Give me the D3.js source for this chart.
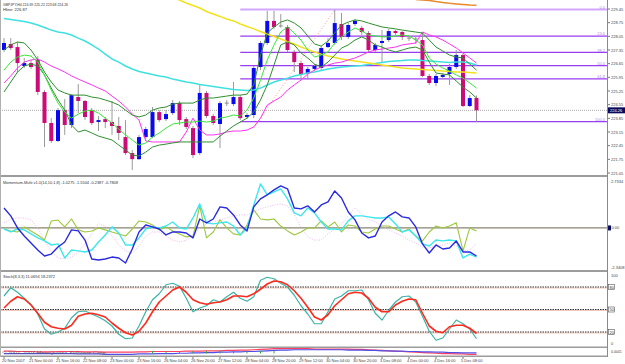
<!DOCTYPE html>
<html><head><meta charset="utf-8">
<script src="https://cdn.jsdelivr.net/npm/d3@7"></script>
<style>body{margin:0;background:#fff}svg{display:block}text{font-family:"Liberation Sans",Arial,sans-serif}</style>
</head><body><svg id="c" width="625" height="364"></svg>
<script>
// ---------- DATA ----------
const symbolHeader = "GBPJPY,H4  224.69 225.22 223.68 224.26";
const hlineHeader = "Hline: 226.87";
const momHeader = "Momentum-Multi v1.0(14,10,1,8) -1.0275 -1.5504 -0.2387 -0.7808";
const stochHeader = "Stoch(8,3,3) 11.0694 18.2372";

const open = [227.35,227.66,227.50,226.53,226.68,226.84,225.20,223.61,222.69,224.27,
223.51,224.94,224.74,224.27,223.66,223.81,223.66,223.46,222.89,222.07,
221.76,222.89,222.89,224.17,223.81,224.12,224.63,223.81,223.35,222.07,
225.15,223.97,223.56,224.63,224.58,224.94,223.92,224.02,226.48,227.71,
228.84,228.58,228.53,227.25,226.68,226.17,226.38,226.43,227.50,227.71,
228.68,228.02,228.68,228.48,228.22,227.35,227.71,227.86,228.32,228.27,
227.96,227.91,227.86,226.02,225.66,225.97,226.12,226.48,227.09,224.48,
224.89];
const high = [227.96,227.96,227.76,226.94,226.84,227.04,225.30,223.86,224.38,224.84,
225.09,225.61,224.79,224.38,223.97,223.92,224.74,223.92,223.76,222.23,
223.00,223.41,224.43,224.27,224.27,224.79,224.74,223.92,223.46,225.61,
225.25,224.07,224.74,224.79,225.71,225.04,224.12,226.53,227.81,229.35,
229.35,229.19,228.63,227.35,226.79,226.48,226.63,227.55,227.96,229.42,
229.25,228.73,228.94,228.58,228.32,227.71,228.37,228.43,228.37,228.32,
228.07,228.07,228.27,226.12,226.12,226.17,226.63,227.35,227.20,225.04,
225.02];
const low = [227.25,227.35,226.22,226.43,226.38,225.04,222.38,222.59,222.64,223.00,
223.35,224.12,223.76,223.51,223.20,223.35,223.00,222.74,221.97,221.20,
221.71,222.79,222.84,223.66,223.71,224.02,223.51,223.30,221.81,221.97,
223.86,223.51,222.33,224.48,224.48,223.76,223.81,223.86,226.32,227.61,
228.43,228.50,227.25,226.22,225.91,225.86,226.27,226.32,227.45,227.61,
227.86,227.91,228.58,228.12,227.25,227.25,226.73,227.76,228.12,227.86,
227.81,227.66,225.97,225.56,225.50,225.86,225.56,226.38,224.43,224.43,
223.68];
const close = [227.71,227.45,226.68,226.68,226.48,225.20,223.61,222.69,224.27,223.51,
225.04,224.74,223.92,223.61,223.76,223.66,223.46,223.10,222.07,221.76,
222.89,223.30,224.17,223.76,224.07,224.63,223.76,223.41,221.97,225.15,
223.97,223.61,224.63,224.58,224.94,223.86,224.02,226.43,227.71,228.84,
228.53,228.55,227.35,226.73,226.12,226.38,226.53,227.45,227.71,228.73,
228.02,228.63,228.84,228.27,227.35,227.61,227.81,228.32,228.22,228.02,
227.91,227.86,226.02,225.66,226.02,226.07,226.48,227.09,224.48,224.89,
224.26];

const maUpper = [227.35,227.61,227.76,227.71,227.35,226.84,226.22,225.71,225.30,225.15,
225.04,225.04,225.04,224.94,224.89,224.79,224.68,224.53,224.27,224.02,
223.92,224.02,224.27,224.38,224.43,224.58,224.63,224.63,224.63,224.79,
224.89,224.89,224.94,224.99,225.04,225.04,225.09,225.56,227.09,228.22,
228.53,228.78,228.89,228.73,228.48,228.07,227.66,227.55,227.81,228.22,
228.63,228.78,228.89,228.84,228.73,228.63,228.53,228.48,228.43,228.37,
228.32,228.27,228.22,227.86,227.50,227.30,227.09,226.99,226.94,226.63,
226.32];
const maMid = [226.32,226.73,226.99,227.09,227.04,226.73,226.07,225.30,224.63,224.17,
223.86,224.07,224.22,224.27,224.12,223.86,223.61,223.30,223.00,222.74,
222.48,222.59,222.89,223.10,223.35,223.56,223.61,223.66,223.66,223.71,
223.66,223.71,223.86,223.92,224.02,223.97,224.27,224.89,225.81,226.84,
227.61,228.27,228.53,228.22,227.86,227.35,226.99,227.09,227.25,227.71,
228.02,228.27,228.48,228.32,228.12,228.07,228.02,228.02,228.07,228.12,
228.07,227.86,227.61,226.94,226.63,226.43,226.27,226.07,225.91,225.66,
225.40];
const maLower = [225.20,225.71,226.22,226.53,226.63,226.53,226.07,225.40,224.79,224.27,
223.51,223.15,223.25,223.10,222.94,222.84,222.74,222.48,222.23,221.97,
221.92,222.12,222.38,222.48,222.53,222.59,222.64,222.64,222.64,222.64,
222.64,222.64,222.94,223.20,223.46,223.66,223.86,224.17,224.79,225.56,
226.58,227.61,227.76,227.61,227.20,226.94,226.63,226.48,226.73,227.09,
227.45,227.61,227.86,228.02,227.86,227.61,227.50,227.35,227.25,227.35,
227.45,227.50,227.35,226.73,226.17,226.12,226.07,225.76,225.45,225.20,
224.89];
const maMagenta = [225.66,226.02,226.43,226.73,226.84,226.89,226.73,226.53,226.38,226.22,
226.02,225.86,225.71,225.56,225.40,225.25,224.99,224.74,224.43,224.07,
223.76,222.69,222.64,222.64,222.64,222.64,222.64,223.15,223.86,223.25,
223.00,223.00,223.05,223.15,223.20,223.20,223.25,223.41,223.86,224.53,
224.74,224.94,225.30,225.56,225.81,226.12,226.32,226.48,226.58,226.68,
226.73,226.84,226.94,227.09,227.25,227.35,227.40,227.45,227.50,227.61,
227.66,227.71,228.27,228.12,228.02,227.86,227.66,227.45,227.20,226.94,
226.68];
const maCyan = [228.96,228.91,228.86,228.81,228.73,228.63,228.50,228.37,228.27,228.22,
228.12,227.96,227.81,227.61,227.40,227.14,226.89,226.73,226.53,226.38,
226.25,226.17,226.09,226.02,225.97,225.86,225.79,225.71,225.66,225.58,
225.53,225.48,225.43,225.38,225.33,225.30,225.27,225.30,225.40,225.56,
225.71,225.81,225.91,226.02,226.09,226.17,226.22,226.30,226.38,226.43,
226.48,226.50,226.53,226.56,226.61,226.66,226.71,226.76,226.79,226.81,
226.84,226.84,226.81,226.79,226.76,226.73,226.71,226.73,226.73,226.68,
226.58];
const maYellow = [null,null,null,null,null,null,null,null,null,null,
null,null,null,null,null,null,null,null,null,null,
null,null,null,null,null,230.01,229.91,229.76,229.63,229.50,
229.32,229.19,229.07,228.94,228.84,228.68,228.55,228.43,228.30,228.17,
228.04,227.91,227.78,227.66,227.50,227.37,227.25,227.14,227.04,226.97,
226.89,226.84,226.79,226.73,226.68,226.63,226.58,226.53,226.48,226.43,
226.40,226.38,226.35,226.32,226.30,226.27,226.25,226.22,226.22,226.20,
226.17];
const maOrange = [null,null,null,null,null,null,null,null,null,null,
null,null,null,null,null,null,null,null,null,null,
null,null,null,null,null,null,null,null,null,null,
null,null,null,null,null,null,null,null,null,null,
null,null,null,null,null,null,null,null,null,null,
null,null,null,null,null,null,null,null,null,null,
null,229.94,229.91,229.89,229.83,229.78,229.74,229.71,229.68,229.65,
229.64];

const fibLevels = [0, 23.6, 38.2, 50, 61.8, 100];
const fibLabels = ["0.0", "23.6", "38.2", "50.0", "61.8", "100.0"];
const fibHigh = 229.42, fibLow = 223.68, fibStartBar = 35;
const fibTrendBars = [37, 49], fibTrendPrices = [223.35, 229.42];

const priceTicks = [229.45,228.75,228.05,227.35,226.65,225.95,225.25,224.55,223.85,223.15,222.45,221.75,221.05];

const momBlue = [1.14,0.69,0.00,-0.46,-0.86,-1.26,-1.60,-1.49,-1.09,-0.80,
-0.11,-0.17,-0.69,-1.77,-1.83,-1.77,-1.66,-1.71,-2.00,-1.20,
-0.23,0.17,0.06,-0.06,-0.40,-0.23,-0.23,-0.29,-0.57,0.51,
0.29,0.51,1.20,1.14,0.74,0.17,-0.17,1.20,1.66,1.89,
2.17,2.40,2.23,1.14,1.09,1.26,0.91,1.31,1.49,2.11,
1.71,0.91,0.46,-0.29,-0.57,-0.46,0.34,0.69,0.91,0.63,
0.57,0.06,-0.91,-1.43,-0.97,-1.20,-1.14,-0.74,-1.37,-1.37,
-1.60];
const momCyan = [-0.06,-0.23,-0.06,-0.11,-0.34,-0.57,-0.74,-0.97,-0.91,-1.71,
-1.26,-1.31,-1.37,-1.26,-0.80,-0.40,0.06,-0.29,-0.97,-0.97,
-0.57,-0.06,0.06,0.00,0.11,0.34,0.00,-0.06,0.57,1.37,
0.29,0.23,0.29,0.34,0.11,-0.40,0.00,1.31,2.51,1.89,
2.06,2.23,1.66,0.86,0.69,1.14,0.86,0.34,-0.06,-0.06,
-0.11,0.40,0.69,0.69,0.63,0.57,0.57,0.63,0.23,-0.23,
-0.11,-0.46,-0.91,-1.03,-0.69,-0.74,-0.69,-0.74,-1.71,-1.49,
-1.66];
const momGreen = [-0.06,-0.17,-0.23,0.06,-0.17,-0.40,-0.69,0.40,0.45,0.06,
0.51,-0.11,-0.23,-0.17,0.00,-0.11,-0.23,-0.34,-0.46,-0.06,
0.40,0.34,0.17,-0.11,0.06,-0.17,-0.34,-0.51,-0.46,1.26,
-0.57,-0.23,0.46,0.00,-0.34,-0.40,0.17,1.03,0.51,0.46,
0.51,0.11,-0.17,-0.40,-0.23,0.00,0.00,0.40,0.06,0.34,
-0.23,0.17,0.11,-0.23,-0.29,-0.06,0.11,0.11,-0.06,-0.23,
-0.06,-0.46,-0.74,-0.23,0.11,0.00,0.11,0.29,-1.31,0.00,
-0.17];
const momPink = [0.29,0.51,0.57,0.57,0.46,0.00,-0.69,-1.37,-1.71,-1.77,
-1.66,-1.37,-0.91,-0.34,0.23,0.11,-0.46,-0.97,-1.31,-1.43,
-1.03,-0.46,-0.23,-0.23,-0.46,-0.69,-0.80,-0.69,-0.46,0.00,
0.23,0.34,0.46,0.57,0.69,0.74,0.74,0.91,1.09,1.20,
1.31,1.37,1.26,0.80,0.00,-0.51,-0.69,-0.69,-0.34,-0.06,
0.23,0.69,1.14,0.80,0.51,0.34,0.11,-0.11,-0.29,-0.46,
-0.69,-0.86,-1.09,-1.14,-1.03,-0.97,-0.86,-1.03,-1.31,-1.26,
-0.86];
const momMax = 2.7334, momMin = -2.3408;

const stochMain = [68,79,73,65,57,44,24,17,20,25,
39,47,48,44,40,35,28,17,11,12,
28,47,63,71,83,85,81,65,47,52,
55,63,60,67,73,65,61,67,89,93,
91,85,80,69,55,44,31,31,47,64,
68,75,75,76,63,45,36,49,60,67,
68,60,41,21,9,12,24,36,31,24,
11];
const stochSignal = [52,61,67,64,56,45,33,27,25,24,
29,41,44,45,43,40,32,25,19,16,
21,32,47,60,68,76,80,73,63,59,
57,59,60,63,68,68,67,71,77,84,
88,87,83,75,65,53,40,36,43,55,
63,71,73,72,65,53,47,47,56,61,
64,63,45,28,21,19,27,29,29,25,
18];
const stochLevels = [80, 50, 20];

const miniRed = [0.55,0.55,0.5,0.5,0.5,0.45,0.45,0.45,0.5,0.5,
0.5,0.5,0.45,0.45,0.45,0.4,0.4,0.4,0.4,0.4,
0.45,0.45,0.5,0.5,0.5,0.5,0.5,0.55,0.55,0.55,
0.6,0.6,0.6,0.65,0.65,0.7,0.7,0.75,0.8,0.85,
0.9,0.9,0.9,0.9,0.9,0.9,0.85,0.85,0.85,0.85,
0.85,0.85,0.8,0.8,0.75,0.7,0.65,0.6,0.55,0.5,
0.45,0.4,0.35,0.3,0.25,0.2,0.2,0.15,0.15,0.1,0.1];
const miniBlue = [0.2,0.2,0.2,0.2,0.2,0.2,0.2,0.2,0.2,0.2,
0.2,0.15,0.15,0.15,0.15,0.1,0.1,0.1,0.1,0.1,
0.15,0.15,0.15,0.2,0.2,0.2,0.25,0.25,0.3,0.3,
0.35,0.35,0.4,0.4,0.45,0.45,0.5,0.5,0.55,0.6,
0.65,0.7,0.7,0.75,0.75,0.75,0.75,0.75,0.75,0.75,
0.75,0.7,0.7,0.7,0.65,0.65,0.6,0.6,0.55,0.55,
0.5,0.5,0.45,0.45,0.4,0.4,0.35,0.35,0.3,0.3,0.3];
const miniTicks = [22,24,26,28,30,32,34,36,38,40];

const timeTickBars = [0,4,8,12,16,20,24,28,32,36,40,44,48,52,56,60,64,68];
const timeTickLabels = ["20 Nov 2007","21 Nov 00:00","21 Nov 16:00","22 Nov 08:00","23 Nov 00:00","23 Nov 16:00",
"26 Nov 04:00","26 Nov 20:00","27 Nov 12:00","28 Nov 04:00","28 Nov 20:00","29 Nov 12:00","30 Nov 04:00",
"30 Nov 20:00","3 Dec 08:00","4 Dec 00:00","4 Dec 16:00","5 Dec 08:00"];

// ---------- LAYOUT ----------
const R = 607;
const svg = d3.select("#c");
svg.append("rect").attr("width",625).attr("height",364).attr("fill","#fff");
const x = d3.scaleLinear().domain([0, 70]).range([4, 476.5]);
const yM = d3.scaleLinear().domain([221.05, 229.45]).range([173, 9]);
const yMo = d3.scaleLinear().domain([momMin, momMax]).range([269, 180]);
const yS = d3.scaleLinear().domain([0, 100]).range([347, 272]);
const yMini = d3.scaleLinear().domain([0, 1]).range([355, 348]);

const defs = svg.append("defs");
function clip(id, y0, h){ defs.append("clipPath").attr("id",id).append("rect").attr("x",0).attr("y",y0).attr("width",R).attr("height",h); }
clip("cm", 0, 175); clip("cmo", 177, 93); clip("cs", 272, 74); clip("cmi", 347.5, 8);

const gM = svg.append("g").attr("clip-path","url(#cm)");
const gMo = svg.append("g").attr("clip-path","url(#cmo)");
const gS = svg.append("g").attr("clip-path","url(#cs)");
const gMi = svg.append("g").attr("clip-path","url(#cmi)");

function lineOn(g, data, yScale, color, width, dash){
  const gen = d3.line().defined(d => d != null).x((d,i) => x(i)).y(d => yScale(d));
  const p = g.append("path").datum(data).attr("d", gen).attr("fill","none")
    .attr("stroke", color).attr("stroke-width", width).attr("stroke-linejoin","round");
  if (dash) p.attr("stroke-dasharray", dash);
  return p;
}

// ---------- MAIN PANE ----------
// current price line
gM.append("line").attr("x1",0).attr("x2",R).attr("y1",yM(close[70])).attr("y2",yM(close[70]))
  .attr("stroke","#a8a8a8").attr("stroke-width",1).attr("stroke-dasharray","1,1");
// fib levels
const fibPrice = l => fibHigh - l/100*(fibHigh - fibLow);
fibLevels.forEach((l, k) => {
  gM.append("line").attr("x1", x(fibStartBar)).attr("x2", R)
    .attr("y1", yM(fibPrice(l))).attr("y2", yM(fibPrice(l)))
    .attr("stroke", k === 0 ? "#d2a6ff" : "#9a3cf0").attr("stroke-width", k === 0 ? 2 : 1.3);
  gM.append("text").attr("x", 605).attr("y", yM(fibPrice(l)) - 0.8).attr("text-anchor","end")
    .attr("font-size", 4).attr("fill","#a98ce8").text(fibLabels[k]);
});
gM.append("line").attr("x1", x(fibTrendBars[0])).attr("y1", yM(fibTrendPrices[0]))
  .attr("x2", x(fibTrendBars[1])).attr("y2", yM(fibTrendPrices[1]))
  .attr("stroke","#ff9a9a").attr("stroke-width",1).attr("stroke-dasharray","1,2");

// candles
open.forEach((o, i) => {
  const c = close[i], bull = c > o;
  gM.append("line").attr("x1", x(i)).attr("x2", x(i)).attr("y1", yM(high[i])).attr("y2", yM(low[i]))
    .attr("stroke","#9a9a9a").attr("stroke-width",1);
  const top = yM(Math.max(o, c)), h = Math.abs(yM(o) - yM(c));
  if (h < 1.2) {
    gM.append("line").attr("x1", x(i)-2).attr("x2", x(i)+2).attr("y1", top).attr("y2", top)
      .attr("stroke", "#888").attr("stroke-width",1);
  } else {
    gM.append("rect").attr("x", x(i)-2).attr("y", top).attr("width", 4).attr("height", h)
      .attr("fill", bull ? "#0a0af0" : "#cc0a78");
  }
});

// moving averages
lineOn(gM, maCyan, yM, "#3fe0e0", 1.5);
lineOn(gM, maYellow, yM, "#f2e21e", 1.5);
lineOn(gM, maOrange, yM, "#e88a2c", 1.5);
lineOn(gM, maMagenta, yM, "#ff33f0", 1);
lineOn(gM, maUpper, yM, "#2f8f2f", 1);
lineOn(gM, maLower, yM, "#2f8f2f", 1);
lineOn(gM, maMid, yM, "#38e838", 1);

// headers
svg.append("text").attr("x",3).attr("y",5.5).attr("font-size",4).attr("fill","#333")
  .attr("textLength",65).attr("lengthAdjust","spacingAndGlyphs").text(symbolHeader);
svg.append("text").attr("x",3).attr("y",10.5).attr("font-size",4).attr("fill","#333")
  .attr("textLength",24).attr("lengthAdjust","spacingAndGlyphs").text(hlineHeader);

// price axis
priceTicks.forEach(p => {
  svg.append("line").attr("x1",R).attr("x2",R+3).attr("y1",yM(p)).attr("y2",yM(p)).attr("stroke","#777");
  svg.append("text").attr("x",611).attr("y",yM(p)+1.5).attr("font-size",4).attr("fill","#444").text(p.toFixed(2));
});
svg.append("rect").attr("x",608).attr("y",yM(close[70])-3).attr("width",17).attr("height",6).attr("fill","#0a0a5a");
svg.append("text").attr("x",610).attr("y",yM(close[70])+1.5).attr("font-size",4).attr("fill","#fff").text(close[70].toFixed(2));

// ---------- MOMENTUM PANE ----------
gMo.append("line").attr("x1",0).attr("x2",R).attr("y1",yMo(0)).attr("y2",yMo(0)).attr("stroke","#8a8470").attr("stroke-width",1.3);
lineOn(gMo, momPink, yMo, "#ecbcec", 1, "1,1.5");
lineOn(gMo, momGreen, yMo, "#9cc83c", 1.1);
lineOn(gMo, momCyan, yMo, "#3ee6ee", 1.4);
lineOn(gMo, momBlue, yMo, "#2a2ae0", 1.4);
svg.append("text").attr("x",3).attr("y",183.5).attr("font-size",4).attr("fill","#333")
  .attr("textLength",115).attr("lengthAdjust","spacingAndGlyphs").text(momHeader);
[momMax, momMin].forEach(v => {
  svg.append("text").attr("x",611).attr("y",yMo(v) + (v > 0 ? 3 : -0.5)).attr("font-size",4).attr("fill","#444").text(v.toFixed(4));
});
svg.append("rect").attr("x",608).attr("y",yMo(0)-2.5).attr("width",3).attr("height",5).attr("fill","#0a0a5a");
svg.append("text").attr("x",611.5).attr("y",yMo(0)+1.5).attr("font-size",4).attr("fill","#444").text("0.00");

// ---------- STOCH PANE ----------
stochLevels.forEach(l => {
  gS.append("line").attr("x1",0).attr("x2",R).attr("y1",yS(l)+1).attr("y2",yS(l)+1).attr("stroke","#f2c8bc").attr("stroke-width",1);
  gS.append("line").attr("x1",0).attr("x2",R).attr("y1",yS(l)).attr("y2",yS(l)).attr("stroke","#303030").attr("stroke-width",1).attr("stroke-dasharray","1.5,1");
  svg.append("rect").attr("x",608.5).attr("y",yS(l)-2.5).attr("width",6).attr("height",5).attr("fill","none").attr("stroke","#555").attr("stroke-width",0.6);
  svg.append("text").attr("x",609.5).attr("y",yS(l)+1.5).attr("font-size",4).attr("fill","#333").text(l);
});
lineOn(gS, stochMain, yS, "#3bb3a6", 1.2);
lineOn(gS, stochSignal, yS, "#ff2a1e", 1.6);
svg.append("text").attr("x",3).attr("y",277.5).attr("font-size",4).attr("fill","#333")
  .attr("textLength",52).attr("lengthAdjust","spacingAndGlyphs").text(stochHeader);
svg.append("text").attr("x",611).attr("y",276.5).attr("font-size",4).attr("fill","#444").text("100");
svg.append("text").attr("x",611).attr("y",345).attr("font-size",4).attr("fill","#444").text("0");

// ---------- MINI PANE ----------
lineOn(gMi, miniRed, yMini, "#ff4060", 1.2);
lineOn(gMi, miniBlue, yMini, "#5050e8", 1.2);
miniTicks.forEach(i => {
  gMi.append("line").attr("x1",x(i)).attr("x2",x(i)).attr("y1",351).attr("y2",353.5).attr("stroke","#30b030").attr("stroke-width",1);
});
svg.append("text").attr("x",2).attr("y",353.5).attr("font-size",4).attr("fill","#555")
  .attr("textLength",105).attr("lengthAdjust","spacingAndGlyphs").text("© 2001-2007 MetaQuotes Software Corp.");
svg.append("text").attr("x",611).attr("y",353).attr("font-size",3.5).attr("fill","#444").text("0.0041");

// ---------- SEPARATORS / AXES ----------
[[175,2],[270,2],[346.5,1.5],[355.5,1.5]].forEach(([y,h]) => {
  svg.append("rect").attr("x",0).attr("y",y).attr("width",R).attr("height",h).attr("fill","#9c9c9c");
});
svg.append("line").attr("x1",R+0.5).attr("x2",R+0.5).attr("y1",0).attr("y2",357).attr("stroke","#8a8a8a").attr("stroke-width",1);
svg.append("line").attr("x1",0.5).attr("x2",0.5).attr("y1",0).attr("y2",357).attr("stroke","#b0b0b0").attr("stroke-width",1);

timeTickBars.forEach((b, k) => {
  svg.append("line").attr("x1",x(b)).attr("x2",x(b)).attr("y1",357).attr("y2",359).attr("stroke","#777");
  svg.append("text").attr("x",x(b)-2).attr("y",362).attr("font-size",4).attr("fill","#444").text(timeTickLabels[k]);
});
</script></body></html>
